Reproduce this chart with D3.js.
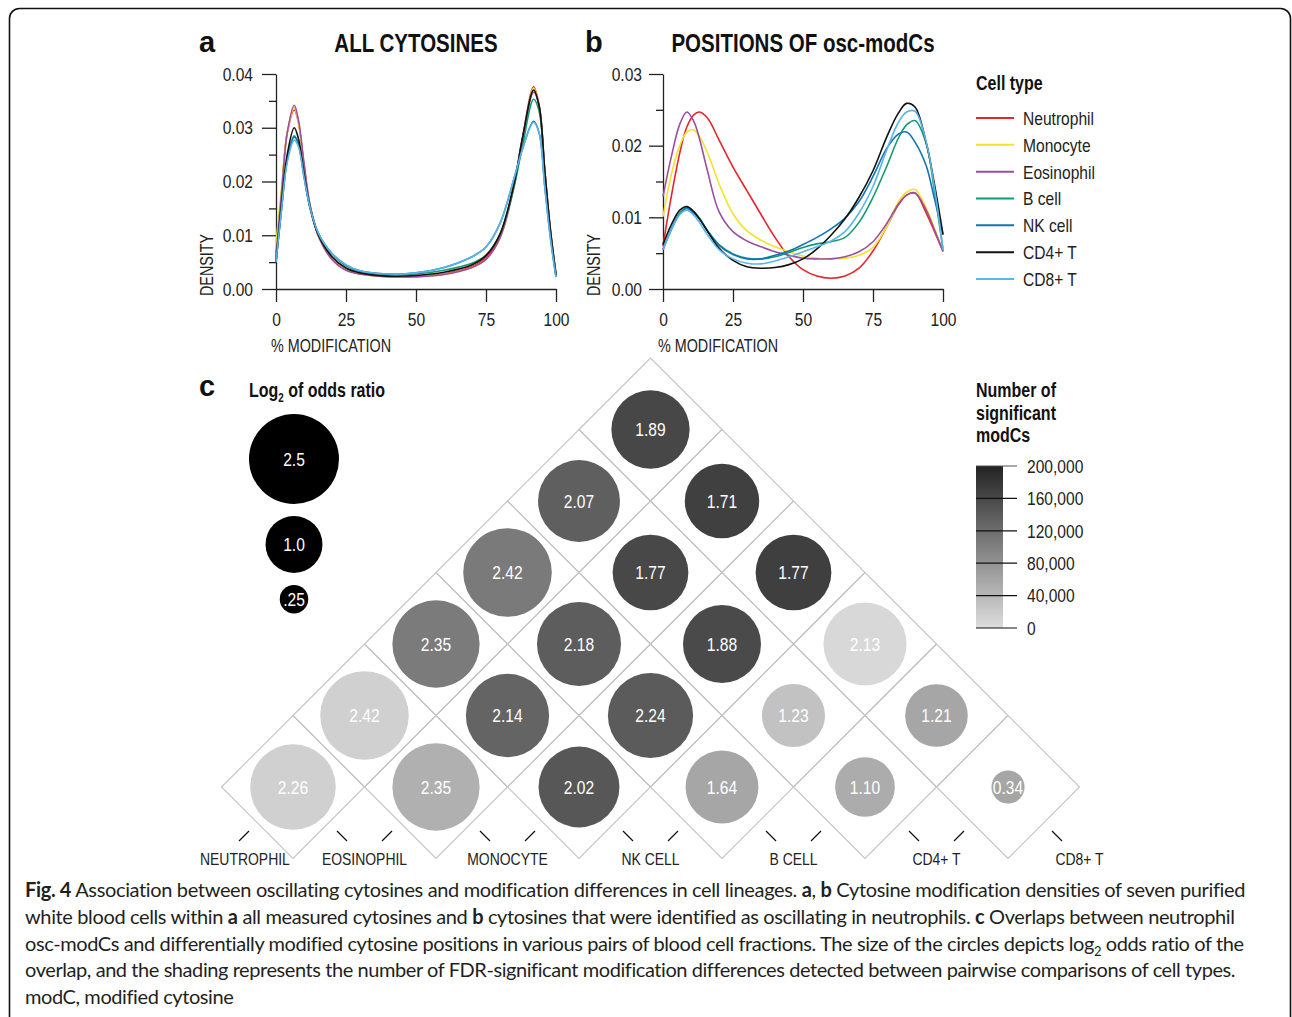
<!DOCTYPE html>
<html><head><meta charset="utf-8">
<script src="https://cdn.jsdelivr.net/npm/d3@7"></script>
<style>
html,body{margin:0;padding:0;background:#fff;}
svg{display:block;}
text{white-space:pre;}
</style></head><body>
<svg id="chart" width="1292" height="1017"></svg>
<script>
// ---------- DATA ----------
const cellTypes = ["Neutrophil","Monocyte","Eosinophil","B cell","NK cell","CD4+ T","CD8+ T"];
const cellColors = ["#e5262b","#f3e229","#9a4fa3","#139a6f","#1473b4","#111111","#5cb5e7"];

// Panel a: all cytosines (x = % modification, y = density)
const gridA = [0,2,4,6.5,8,10,12,15,20,25,30,40,50,60,70,75,80,85,88,92,94,96,98,100];
const aNeutrophil = [0.0065,0.018,0.029,0.0333,0.031,0.023,0.016,0.0102,0.0056,0.0036,0.0028,0.0023,0.0023,0.0028,0.0042,0.0058,0.0098,0.0195,0.028,0.0376,0.034,0.022,0.011,0.0028];
const aMonocyte   = [0.0085,0.019,0.029,0.0337,0.031,0.023,0.016,0.0100,0.0055,0.0036,0.0028,0.0023,0.0023,0.0027,0.0040,0.0055,0.0094,0.019,0.0275,0.0374,0.034,0.022,0.011,0.0028];
const aEosinophil = [0.006,0.018,0.029,0.0342,0.0315,0.0235,0.016,0.0100,0.0055,0.0035,0.0028,0.0023,0.0023,0.0027,0.0040,0.0055,0.0095,0.019,0.028,0.0366,0.034,0.022,0.011,0.0027];
const aBcell      = [0.005,0.015,0.024,0.0285,0.027,0.021,0.0155,0.0105,0.0065,0.0043,0.0033,0.0027,0.0028,0.0035,0.0048,0.0063,0.0102,0.019,0.0265,0.0353,0.033,0.021,0.0105,0.0025];
const aNKcell     = [0.005,0.015,0.024,0.0283,0.027,0.021,0.0155,0.0105,0.0066,0.0045,0.0034,0.0028,0.0030,0.0040,0.0060,0.0078,0.0122,0.0205,0.026,0.0312,0.029,0.019,0.0095,0.0022];
const aCD4T       = [0.005,0.016,0.025,0.030,0.028,0.0215,0.0155,0.0102,0.0060,0.0039,0.0030,0.0024,0.0025,0.0031,0.0045,0.0062,0.0102,0.0195,0.028,0.0370,0.034,0.022,0.011,0.0026];
const aCD8T       = [0.005,0.015,0.0235,0.0277,0.0265,0.0208,0.0155,0.0105,0.0066,0.0045,0.0034,0.0028,0.0030,0.0040,0.0060,0.0078,0.0122,0.0205,0.026,0.0310,0.029,0.019,0.0095,0.0022];

// Panel b: positions of osc-modCs
const gridB = [0,3,6,8.5,11,13,16,20,25,30,35,40,45,50,55,60,65,70,75,80,84,87,90,94,97,100];
const bNeutrophil = [0.0060,0.0130,0.0190,0.0226,0.0243,0.0247,0.0238,0.0208,0.0170,0.0137,0.0104,0.0072,0.0045,0.0027,0.0018,0.0015,0.0018,0.0029,0.0053,0.0088,0.0117,0.0131,0.0134,0.0106,0.0080,0.0052];
const bMonocyte   = [0.0101,0.0160,0.0200,0.0219,0.0222,0.0213,0.0189,0.0147,0.0105,0.0081,0.0068,0.0059,0.0052,0.0046,0.0043,0.0042,0.0043,0.0047,0.0058,0.0088,0.0121,0.0135,0.0139,0.0113,0.0084,0.0053];
const bEosinophil = [0.0129,0.0185,0.0230,0.0247,0.0234,0.0210,0.0163,0.0108,0.0080,0.0067,0.0059,0.0052,0.0047,0.0043,0.0042,0.0042,0.0045,0.0052,0.0066,0.0092,0.0118,0.0131,0.0134,0.0110,0.0082,0.0053];
const bBcell      = [0.0055,0.0084,0.0106,0.0114,0.0108,0.0099,0.0081,0.0062,0.0049,0.0043,0.0042,0.0045,0.0051,0.0058,0.0063,0.0066,0.0072,0.0093,0.0128,0.0172,0.0210,0.0229,0.0235,0.0203,0.0135,0.0055];
const bNKcell     = [0.0055,0.0083,0.0105,0.0112,0.0106,0.0098,0.0080,0.0061,0.0048,0.0042,0.0042,0.0047,0.0053,0.0062,0.0072,0.0084,0.0099,0.0122,0.0157,0.0197,0.0216,0.0219,0.0205,0.0172,0.0125,0.0076];
const bCD4T       = [0.0062,0.0090,0.0110,0.0115,0.0108,0.0098,0.0080,0.0057,0.0040,0.0031,0.0029,0.0030,0.0034,0.0042,0.0056,0.0075,0.0098,0.0128,0.0165,0.0213,0.0245,0.0259,0.0254,0.0204,0.0145,0.0076];
const bCD8T       = [0.0055,0.0083,0.0104,0.0110,0.0103,0.0093,0.0075,0.0055,0.0042,0.0036,0.0035,0.0039,0.0045,0.0052,0.0059,0.0067,0.0080,0.0106,0.0143,0.0195,0.0232,0.0247,0.0248,0.0205,0.0140,0.0055];

const xTicks = [0,25,50,75,100];
const yTicksA = [0,0.01,0.02,0.03,0.04];
const yTicksB = [0,0.01,0.02,0.03];

// Panel c: pairwise overlaps
const pairTypes = ["NEUTROPHIL","EOSINOPHIL","MONOCYTE","NK CELL","B CELL","CD4+ T","CD8+ T"];
const pairFirst  = [0,1,2,3,4,5, 0,1,2,3,4, 0,1,2,3, 0,1,2, 0,1, 0];
const pairSecond = [1,2,3,4,5,6, 2,3,4,5,6, 3,4,5,6, 4,5,6, 5,6, 6];
const pairLog2OR = [2.26,2.35,2.02,1.64,1.10,0.34, 2.42,2.14,2.24,1.23,1.21, 2.35,2.18,1.88,2.13, 2.42,1.77,1.77, 2.07,1.71, 1.89];
const pairCount  = [14000,48000,144000,59000,53000,59000, 14000,130000,140000,29000,59000, 105000,138000,158000,5000, 106000,160000,170000, 135000,169000, 161000];
const oddsLegendValues = [2.5,1.0,0.25];
const oddsLegendLabels = ["2.5","1.0",".25"];
const countTicks = [0,40000,80000,120000,160000,200000];

// ---------- DRAWING ----------
const FONT = '"Liberation Sans",Arial,sans-serif';
const NARROW = 0.82;
const svg = d3.select("#chart");

// condense plain text elements (emulates a narrow sans)
function narrow(sel){
  sel.each(function(){
    const w = this.getComputedTextLength();
    d3.select(this).attr("textLength", w*NARROW).attr("lengthAdjust","spacingAndGlyphs");
  });
  return sel;
}
function label(g, x, y, s, size, opts={}){
  const t = g.append("text").attr("x",x).attr("y",y).text(s)
    .attr("font-family",FONT).attr("font-size",size).attr("fill",opts.fill||"#222");
  if(opts.bold) t.attr("font-weight","bold");
  if(opts.anchor) t.attr("text-anchor",opts.anchor);
  if(opts.dy) t.attr("dy",opts.dy);
  narrow(t);
  return t;
}

// outer rounded frame
svg.append("rect").attr("x",9.5).attr("y",8.5).attr("width",1281).attr("height",1100)
  .attr("rx",10).attr("fill","none").attr("stroke","#111").attr("stroke-width",1.6);

function densityPanel(opts){
  const g = svg.append("g");
  const x = d3.scaleLinear().domain([0,100]).range(opts.xr);
  const y = d3.scaleLinear().domain(opts.yd).range([289,74]);
  const minor = d3.range(0.005, opts.yd[1], 0.01);
  g.append("g").attr("transform",`translate(${x(0)},0)`)
    .call(d3.axisLeft(y).tickValues(minor).tickSize(7).tickFormat(""))
    .call(a=>a.select(".domain").remove())
    .call(a=>a.selectAll("line").attr("stroke","#222").attr("stroke-width",1.3));
  const ya = g.append("g").attr("transform",`translate(${x(0)},0)`)
    .call(d3.axisLeft(y).tickValues(opts.yt).tickSize(14).tickPadding(opts.pad).tickSizeOuter(0).tickFormat(d3.format(".2f")));
  const xa = g.append("g").attr("transform",`translate(0,${y(0)})`)
    .call(d3.axisBottom(x).tickValues(xTicks).tickSize(13).tickPadding(11).tickSizeOuter(0));
  [ya,xa].forEach(a=>{
    a.selectAll("path,line").attr("stroke","#222").attr("stroke-width",1.3);
    a.selectAll("text").attr("font-family",FONT).attr("font-size",19).attr("fill","#222");
    narrow(a.selectAll("text"));
  });
  const line = d3.line().x((d,i)=>x(opts.grid[i])).y(d=>y(d)).curve(d3.curveCatmullRom.alpha(0.5));
  opts.series.forEach((s,i)=>{
    g.append("path").attr("d",line(s)).attr("fill","none")
      .attr("stroke",cellColors[i]).attr("stroke-width",1.6);
  });
  label(g, x(0)-5, 352, "% MODIFICATION", 17.5);
  const dl = g.append("text").attr("transform",`translate(${x(0)-63},296) rotate(-90)`).text("DENSITY")
    .attr("font-family",FONT).attr("font-size",17.5).attr("fill","#222");
  narrow(dl);
  g.append("text").attr("x",opts.lx).attr("y",52).text(opts.letter)
    .attr("font-family",FONT).attr("font-weight","bold").attr("font-size",29).attr("fill","#111");
  label(g, opts.tx, 52, opts.title, 25, {bold:true, anchor:"middle", fill:"#111"});
}

densityPanel({xr:[276,556], yd:[0,0.04], yt:yTicksA, pad:9, grid:gridA,
  series:[aNeutrophil,aMonocyte,aEosinophil,aBcell,aNKcell,aCD4T,aCD8T],
  letter:"a", lx:199, title:"ALL CYTOSINES", tx:416});
densityPanel({xr:[663,943], yd:[0,0.03], yt:yTicksB, pad:7, grid:gridB,
  series:[bNeutrophil,bMonocyte,bEosinophil,bBcell,bNKcell,bCD4T,bCD8T],
  letter:"b", lx:585, title:"POSITIONS OF osc-modCs", tx:803});

// legend: cell type
const lg = svg.append("g");
label(lg, 976, 90, "Cell type", 19.5, {bold:true, fill:"#111"});
const ly = d3.scalePoint().domain(cellTypes).range([118,279]);
cellTypes.forEach((c,i)=>{
  lg.append("line").attr("x1",976).attr("x2",1014).attr("y1",ly(c)).attr("y2",ly(c))
    .attr("stroke",cellColors[i]).attr("stroke-width",2);
  label(lg, 1023, ly(c), c, 19, {dy:"0.36em"});
});

// ---------- Panel c ----------
const pc = svg.append("g");
const xType = d3.scalePoint().domain(pairTypes).range([221.5,1079.5]);
const groundY = 858.5;
const half = xType.step()/2;
const rScale = d3.scaleSqrt().domain([0,2.5]).range([0,45]);
const shade = d3.scaleLinear().domain([0,200000]).range(["#dddddd","#232323"]);

const cells = pairLog2OR.map((v,k)=>{
  const xa = xType(pairTypes[pairFirst[k]]), xb = xType(pairTypes[pairSecond[k]]);
  return {v, n:pairCount[k], cx:(xa+xb)/2, cy:groundY-(xb-xa)/2};
});
pc.selectAll("path.dia").data(cells).enter().append("path")
  .attr("d",d=>`M${d.cx-half},${d.cy}L${d.cx},${d.cy-half}L${d.cx+half},${d.cy}L${d.cx},${d.cy+half}Z`)
  .attr("fill","none").attr("stroke","#c4c4c4").attr("stroke-width",1.1);
pc.selectAll("circle.c").data(cells).enter().append("circle")
  .attr("cx",d=>d.cx).attr("cy",d=>d.cy).attr("r",d=>rScale(d.v)).attr("fill",d=>shade(d.n));
cells.forEach(d=>{
  label(pc, d.cx, d.cy, d3.format(".2f")(d.v), 19, {anchor:"middle", dy:"0.36em", fill:"#fff"});
});

pairTypes.forEach((t,i)=>{
  const x0 = xType(t);
  if(i>0) pc.append("line").attr("x1",x0-27.5).attr("y1",groundY-27.5).attr("x2",x0-17.5).attr("y2",groundY-17.5)
      .attr("stroke","#111").attr("stroke-width",1.2);
  if(i<pairTypes.length-1) pc.append("line").attr("x1",x0+17.5).attr("y1",groundY-17.5).attr("x2",x0+27.5).attr("y2",groundY-27.5)
      .attr("stroke","#111").attr("stroke-width",1.2);
  const tx = label(pc, x0, groundY, t, 17, {anchor:"middle", dy:"0.36em"});
  const w = +tx.attr("textLength");
  if(x0 - w/2 < 200) tx.attr("x",200 + w/2);
});

// odds-ratio legend
pc.append("text").attr("x",199).attr("y",396).text("c")
  .attr("font-family",FONT).attr("font-weight","bold").attr("font-size",29).attr("fill","#111");
const lt = pc.append("text").attr("transform",`translate(249,397) scale(${NARROW},1)`)
  .attr("font-family",FONT).attr("font-weight","bold").attr("font-size",19.5).attr("fill","#111");
lt.append("tspan").text("Log");
lt.append("tspan").text("2").attr("font-size",12).attr("dy",5);
lt.append("tspan").text(" of odds ratio").attr("dy",-5);
let yy = 414;
oddsLegendValues.forEach((v,i)=>{
  const r = rScale(v), cy = yy + r;
  pc.append("circle").attr("cx",294).attr("cy",cy).attr("r",r).attr("fill","#000");
  label(pc, 294, cy, oddsLegendLabels[i], 19, {anchor:"middle", dy:"0.36em", fill:"#fff"});
  yy = cy + r + 12;
});

// colour bar legend
const cb = svg.append("g");
["Number of","significant","modCs"].forEach((s,i)=>{
  label(cb, 976, 397+i*22.5, s, 19.5, {bold:true, fill:"#111"});
});
const defs = svg.append("defs");
const grad = defs.append("linearGradient").attr("id","gbar").attr("x1",0).attr("y1",1).attr("x2",0).attr("y2",0);
grad.append("stop").attr("offset","0%").attr("stop-color",shade(0));
grad.append("stop").attr("offset","100%").attr("stop-color",shade(200000));
const yBar = d3.scaleLinear().domain([0,200000]).range([628,466]);
cb.append("rect").attr("x",976).attr("y",yBar(200000)).attr("width",27).attr("height",yBar(0)-yBar(200000))
  .attr("fill","url(#gbar)");
countTicks.forEach(t=>{
  cb.append("line").attr("x1",976).attr("x2",1017).attr("y1",yBar(t)).attr("y2",yBar(t))
    .attr("stroke",t===200000?"#555":"#111").attr("stroke-width",1.2);
  label(cb, 1027, yBar(t), d3.format(",")(t), 19, {dy:"0.36em"});
});

// ---------- caption ----------
const captionLines = [
  [["Fig. 4",1],[" Association between oscillating cytosines and modification differences in cell lineages. ",0],["a",1],[", ",0],["b",1],[" Cytosine modification densities of seven purified",0]],
  [["white blood cells within ",0],["a",1],[" all measured cytosines and ",0],["b",1],[" cytosines that were identified as oscillating in neutrophils. ",0],["c",1],[" Overlaps between neutrophil",0]],
  [["osc-modCs and differentially modified cytosine positions in various pairs of blood cell fractions. The size of the circles depicts log",0],["2",2],[" odds ratio of the",0]],
  [["overlap, and the shading represents the number of FDR-significant modification differences detected between pairwise comparisons of cell types.",0]],
  [["modC, modified cytosine",0]]
];
const captionWidths = [1220,1210,1219,1209,208];
captionLines.forEach((segs,i)=>{
  const t = svg.append("text").attr("x",25).attr("y",897+i*26.8)
    .attr("font-family",'Lato,"Open Sans",sans-serif').attr("font-size",20).attr("fill","#231f20");
  let sub = false, nChars = 0;
  segs.forEach(([s,b])=>{
    nChars += s.length;
    const ts = t.append("tspan").text(s);
    if(b===1) ts.attr("font-weight","bold");
    if(b===2){ ts.attr("font-size",13).attr("dy",5); sub = true; }
    else if(sub){ ts.attr("dy",-5); sub=false; }
  });
  const natural = t.node().getComputedTextLength();
  t.attr("letter-spacing", ((captionWidths[i]-natural)/nChars).toFixed(3));
});
</script>
</body></html>
